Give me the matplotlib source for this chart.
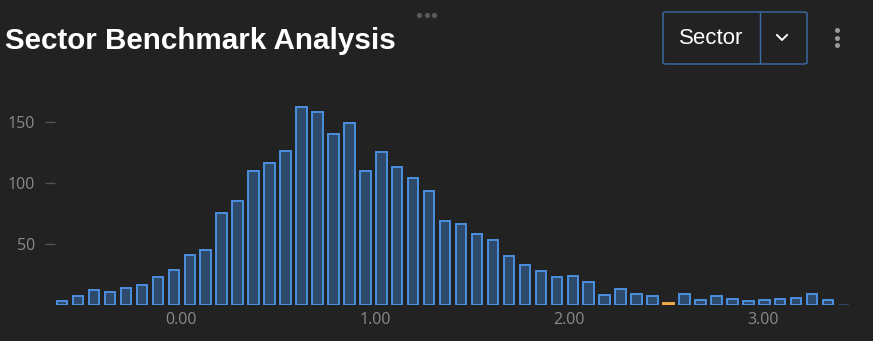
import numpy as np
import matplotlib.pyplot as plt
from matplotlib.patches import FancyBboxPatch
from matplotlib.lines import Line2D

# histogram counts per bin
counts = [3, 7, 12, 11, 14, 16, 23, 29, 41, 45,
          75, 85, 110, 116, 126, 162, 158, 140, 149, 110,
          125, 113, 104, 93, 69, 66, 58, 53, 40, 33,
          28, 23, 24, 19, 8, 13, 9, 7, 2, 9,
          4, 7, 5, 3, 4, 5, 6, 9, 4, 0]
bin_range = (-0.654, 3.459)
highlight_bin = 38
yticks = [50, 100, 150]
xticks = [0, 1, 2, 3]
xtick_labels = ['0.00', '1.00', '2.00', '3.00']
title = 'Sector Benchmark Analysis'
selector_label = 'Sector'

bg = '#222222'
bar_fill = '#2e4a6b'
bar_edge = '#4a8fdf'
hl_color = '#f0a84a'
tick_color = '#8a8a8a'

W, H = 873, 341
fig = plt.figure(figsize=(W / 100, H / 100), dpi=100, facecolor=bg)

ax = fig.add_axes([55 / W, 1 - 305 / H, (860 - 55) / W, (305 - 95) / H])
ax.set_facecolor(bg)

edges = np.linspace(bin_range[0], bin_range[1], len(counts) + 1)
centers = (edges[:-1] + edges[1:]) / 2
step = edges[1] - edges[0]

fills = [hl_color if i == highlight_bin else bar_fill for i in range(len(counts))]
lines = [hl_color if i == highlight_bin else (bar_fill if c == 0 else bar_edge)
         for i, c in enumerate(counts)]
ax.bar(centers, counts, width=step * 0.66, color=fills, edgecolor=lines, linewidth=1.4)

ax.set_xlim((55 - 181) / 194, (860 - 181) / 194)
ax.set_ylim(0, 172)
for s in ax.spines.values():
    s.set_visible(False)

ax.set_yticks(yticks)
ax.set_xticks(xticks)
ax.set_xticklabels(xtick_labels)
ax.tick_params(axis='y', length=7.2, width=1, color='#555555', pad=7,
               labelcolor=tick_color, labelsize=11.5)
ax.tick_params(axis='x', length=0, pad=5, labelcolor=tick_color, labelsize=11.5)
for lab in ax.get_xticklabels() + ax.get_yticklabels():
    lab.set_fontfamily('Open Sans')

# title
fig.text(5 / W, 1 - 49 / H, title, color='white', fontsize=21.3, fontweight='bold',
         family='Liberation Sans', va='baseline', ha='left')

# drag handle dots
fig.lines.append(Line2D([419 / W, 426.5 / W, 434 / W], [1 - 15 / H] * 3, transform=fig.transFigure,
                        linestyle='none', marker='o', markersize=3.8,
                        markerfacecolor='#5a5a5a', markeredgecolor='none'))

# selector box
box = FancyBboxPatch((663 / W, 1 - 64 / H), (807 - 663) / W, (64 - 12) / H,
                     boxstyle='round,pad=0,rounding_size=0.004', transform=fig.transFigure,
                     facecolor='none', edgecolor='#3a6ea8', linewidth=1)
fig.patches.append(box)
fig.lines.append(Line2D([760 / W, 760 / W], [1 - 13 / H, 1 - 63 / H], transform=fig.transFigure,
                        color='#3a6ea8', linewidth=1))
fig.text(711 / W, 1 - 38 / H, selector_label, color='white', fontsize=16,
         family='Liberation Sans', ha='center', va='center')
fig.lines.append(Line2D([777 / W, 782 / W, 787 / W], [1 - 35 / H, 1 - 40 / H, 1 - 35 / H],
                        transform=fig.transFigure, color='white', linewidth=1.4))

# menu dots
fig.lines.append(Line2D([837 / W] * 3, [1 - 30 / H, 1 - 37.5 / H, 1 - 45 / H],
                        transform=fig.transFigure, linestyle='none', marker='o', markersize=3.6,
                        markerfacecolor='#9a9a9a', markeredgecolor='none'))

fig.savefig('out.png', dpi=100, facecolor=bg)
